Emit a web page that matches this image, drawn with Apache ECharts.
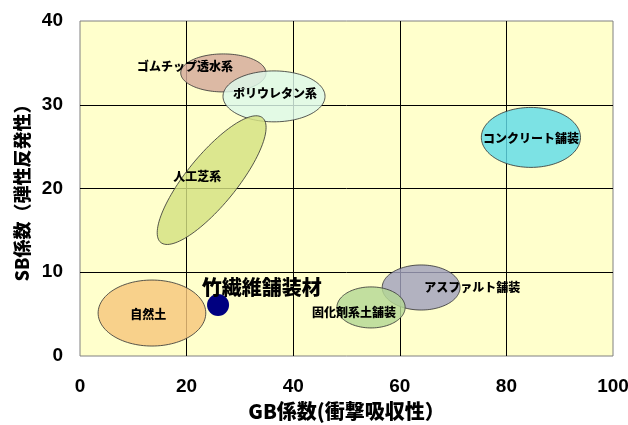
<!DOCTYPE html>
<html>
<head>
<meta charset="utf-8">
<script src="https://cdn.jsdelivr.net/npm/echarts@6/dist/echarts.min.js"></script>
<style>
html,body{margin:0;padding:0;background:#fff;}
#chart{width:628px;height:425px;}
</style>
</head>
<body>
<div id="chart"></div>
<script>
// ---- data ----
const areaNames = ['ゴムチップ透水系', 'ポリウレタン系', '人工芝系', 'コンクリート舗装', '自然土', 'アスファルト舗装', '固化剤系土舗装'];
const areaCenterGB = [26.9, 36.4, 24.7, 84.6, 13.5, 64.0, 54.6];
const areaCenterSB = [33.8, 31.0, 21.0, 26.1, 5.13, 8.18, 5.8];
const areaRadiusGB = [8.0, 9.57, 15.1, 9.3, 10.1, 7.3, 6.4];
const areaRadiusSB = [2.27, 3.04, 2.99, 3.58, 3.94, 2.69, 2.45];
const areaTiltDeg = [0, 0, 50.8, 0, 0, 0, 0];
const areaLabelGB = [19.7, 36.6, 22.0, 84.6, 12.8, 73.6, 51.4];
const areaLabelSB = [34.6, 31.4, 21.5, 26.0, 5.0, 8.24, 5.25];
const areaColors = ['#D4AA9B', '#DDF9EA', '#D4E281', '#5FDCE9', '#F6C77C', '#A1A1BD', '#B5D895'];

const productName = '竹繊維舗装材';
const productGB = 25.9;
const productSB = 6.1;
const productLabelGB = 34.1;
const productLabelSB = 8.24;

const xTicks = [0, 20, 40, 60, 80, 100];
const yTicks = [0, 10, 20, 30, 40];

// ---- build ----
const areaData = areaNames.map((n, i) => [areaCenterGB[i], areaCenterSB[i], areaRadiusGB[i], areaRadiusSB[i], areaTiltDeg[i], i]);
const labelData = areaNames.map((n, i) => [areaLabelGB[i], areaLabelSB[i], n, 12]);
labelData.push([productLabelGB, productLabelSB, productName, 20]);

const jpFont = '"Noto Sans CJK JP", "Noto Sans", sans-serif';
const numFont = '"Liberation Sans", Arial, sans-serif';

const chart = echarts.init(document.getElementById('chart'));
chart.setOption({
  animation: false,
  backgroundColor: '#ffffff',
  grid: {left: 80, right: 15, top: 21, bottom: 69, show: true, outerBoundsMode: 'none', containLabel: false,
         backgroundColor: '#FFFFCC', borderColor: '#808080', borderWidth: 1},
  xAxis: {
    type: 'value', min: xTicks[0], max: xTicks[xTicks.length - 1], interval: 20,
    axisLine: {show: false}, axisTick: {show: false},
    splitLine: {show: true, showMinLine: false, showMaxLine: false, lineStyle: {color: '#000', width: 1}},
    axisLabel: {fontFamily: numFont, fontWeight: 'bold', fontSize: 19, color: '#000', margin: 21},
    name: 'GB係数(衝撃吸収性）', nameLocation: 'middle', nameGap: 45,
    nameTextStyle: {fontFamily: jpFont, fontWeight: 900, fontSize: 20, color: '#000'}
  },
  yAxis: {
    type: 'value', min: yTicks[0], max: yTicks[yTicks.length - 1], interval: 10,
    axisLine: {show: false}, axisTick: {show: false},
    splitLine: {show: true, showMinLine: false, showMaxLine: false, lineStyle: {color: '#000', width: 1}},
    axisLabel: {fontFamily: numFont, fontWeight: 'bold', fontSize: 19, color: '#000', margin: 17},
    name: 'SB係数（弾性反発性）', nameLocation: 'middle', nameGap: 47, nameRotate: 90,
    nameTextStyle: {fontFamily: jpFont, fontWeight: 900, fontSize: 18, color: '#000'}
  },
  series: [
    {
      type: 'custom', z: 3,
      data: areaData,
      renderItem: function (params, api) {
        const c = api.coord([api.value(0), api.value(1)]);
        const s = api.size([api.value(2), api.value(3)]);
        const a = s[0], b = s[1];
        const th = -api.value(4) * Math.PI / 180;
        const pts = [];
        for (let k = 0; k < 120; k++) {
          const t = k / 120 * Math.PI * 2;
          const ex = a * Math.cos(t), ey = b * Math.sin(t);
          pts.push([c[0] + ex * Math.cos(th) - ey * Math.sin(th), c[1] + ex * Math.sin(th) + ey * Math.cos(th)]);
        }
        return {
          type: 'polygon',
          shape: {points: pts},
          style: {fill: areaColors[api.value(5)], stroke: '#333', lineWidth: 1, opacity: 0.82}
        };
      }
    },
    {
      type: 'scatter', z: 4,
      data: [[productGB, productSB]],
      symbol: 'circle', symbolSize: 22,
      itemStyle: {color: '#000080', opacity: 1}
    },
    {
      type: 'custom', z: 5,
      data: labelData,
      renderItem: function (params, api) {
        const c = api.coord([api.value(0), api.value(1)]);
        const d = labelData[params.dataIndex];
        return {
          type: 'text', x: c[0], y: c[1],
          style: {text: d[2], fill: '#000', font: '900 ' + d[3] + 'px ' + jpFont, align: 'center', verticalAlign: 'middle'}
        };
      }
    }
  ]
});
</script>
</body>
</html>
